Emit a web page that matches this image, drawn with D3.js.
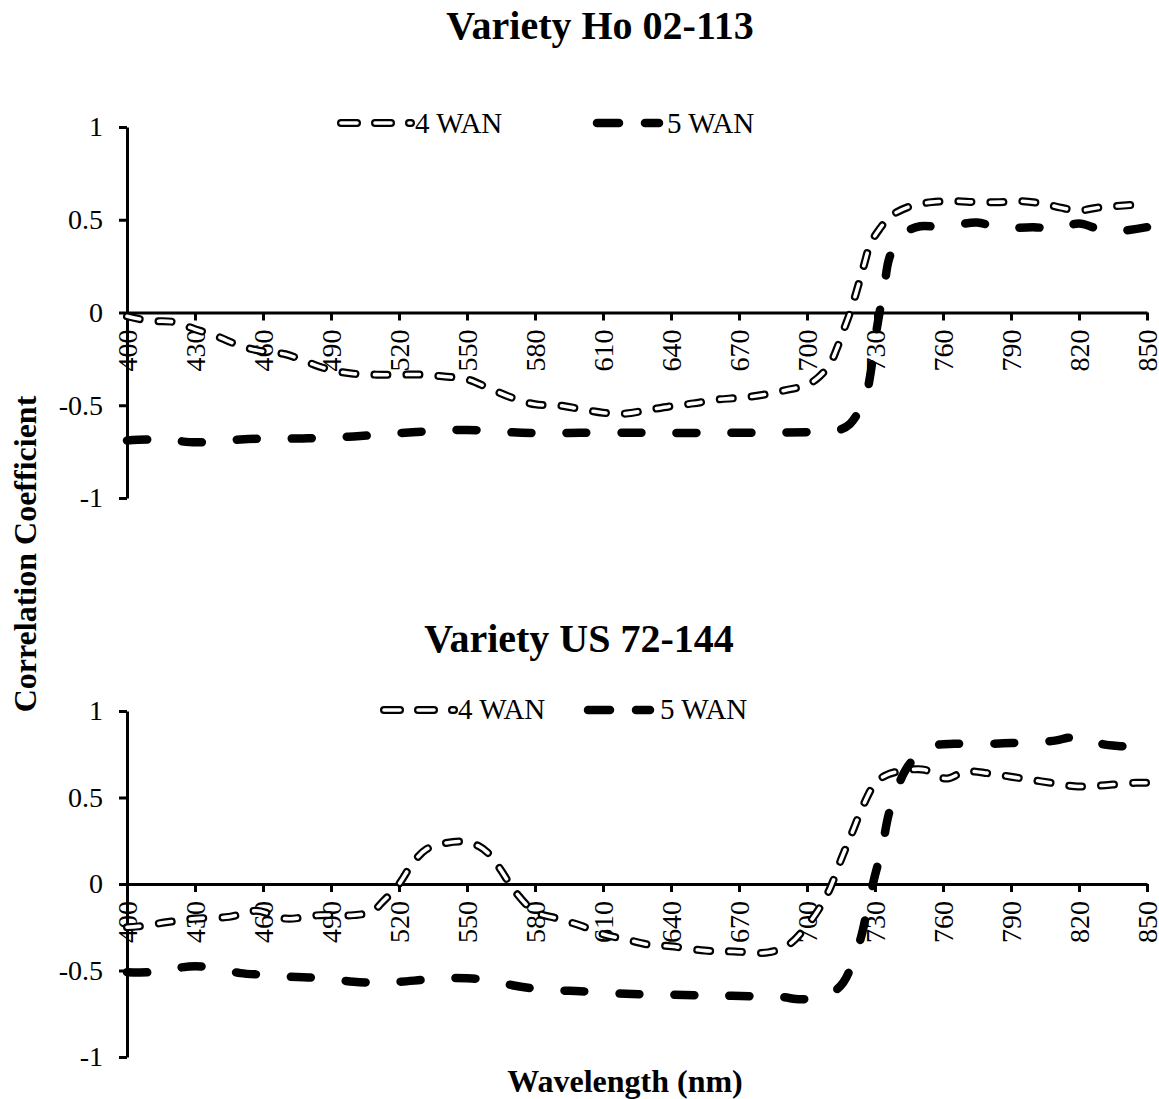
<!DOCTYPE html>
<html>
<head>
<meta charset="utf-8">
<script src="https://cdn.jsdelivr.net/npm/d3@7"></script>
<style>
  html, body { margin: 0; padding: 0; background: #fff; }
  svg { display: block; font-family: "Liberation Serif", "Times New Roman", serif; }
</style>
</head>
<body>
<svg id="chart" width="1159" height="1099"></svg>
<script>
// ---------- data ----------
const xTicks = [400, 430, 460, 490, 520, 550, 580, 610, 640, 670, 700, 730, 760, 790, 820, 850];
const yTicks = [-1, -0.5, 0, 0.5, 1];
const yTickLabels = ["-1", "-0.5", "0", "0.5", "1"];
const seriesNames = ["4 WAN", "5 WAN"];
const panelTitles = ["Variety Ho 02-113", "Variety US 72-144"];

// Variety Ho 02-113, 4 WAN
const hoWl4 = [400, 410, 420, 430, 440, 450, 460, 470, 480, 490, 500, 510, 520, 530, 540, 550, 560, 570, 580, 590, 600, 610, 620, 630, 640, 650, 660, 670, 680, 690, 700, 705, 710, 713, 716, 719, 722, 725, 728, 732, 737, 745, 755, 765, 775, 785, 795, 805, 812, 820, 828, 838, 850];
const hoVal4 = [-0.02, -0.045, -0.05, -0.09, -0.13, -0.18, -0.21, -0.225, -0.27, -0.31, -0.33, -0.335, -0.335, -0.335, -0.345, -0.36, -0.41, -0.46, -0.495, -0.50, -0.52, -0.54, -0.545, -0.525, -0.505, -0.49, -0.47, -0.46, -0.445, -0.42, -0.39, -0.35, -0.28, -0.2, -0.1, 0.0, 0.12, 0.25, 0.37, 0.45, 0.52, 0.57, 0.595, 0.6, 0.595, 0.595, 0.6, 0.585, 0.565, 0.55, 0.565, 0.575, 0.585];
// Variety Ho 02-113, 5 WAN
const hoWl5 = [400, 410, 420, 430, 440, 450, 460, 470, 480, 490, 500, 510, 520, 530, 540, 550, 560, 570, 580, 590, 600, 620, 640, 660, 680, 700, 710, 715, 719, 723, 726, 728, 730, 732, 734, 736, 739, 743, 750, 760, 775, 785, 800, 810, 820, 830, 838, 850];
const hoVal5 = [-0.69, -0.685, -0.69, -0.70, -0.695, -0.685, -0.68, -0.68, -0.678, -0.675, -0.668, -0.66, -0.65, -0.643, -0.636, -0.633, -0.638, -0.646, -0.65, -0.65, -0.648, -0.648, -0.65, -0.648, -0.648, -0.645, -0.64, -0.63, -0.6, -0.53, -0.45, -0.33, -0.15, 0.0, 0.13, 0.28, 0.37, 0.43, 0.465, 0.46, 0.485, 0.455, 0.46, 0.45, 0.48, 0.445, 0.44, 0.46];

// Variety US 72-144, 4 WAN
const usWl4 = [400, 405, 418, 430, 445, 457, 470, 485, 500, 508, 513, 520, 526, 532, 540, 548, 555, 560, 565, 571, 580, 590, 600, 610, 620, 630, 640, 655, 668, 683, 692, 700, 705, 710, 715, 720, 725, 730, 735, 745, 752, 758, 762, 770, 780, 790, 800, 810, 818, 825, 835, 845, 850];
const usVal4 = [-0.25, -0.245, -0.22, -0.2, -0.19, -0.155, -0.2, -0.18, -0.18, -0.16, -0.1, 0.0, 0.12, 0.2, 0.235, 0.245, 0.22, 0.17, 0.08, -0.04, -0.16, -0.2, -0.24, -0.29, -0.32, -0.35, -0.36, -0.385, -0.39, -0.395, -0.35, -0.24, -0.15, -0.03, 0.14, 0.3, 0.46, 0.58, 0.63, 0.66, 0.66, 0.62, 0.61, 0.65, 0.64, 0.62, 0.6, 0.58, 0.565, 0.565, 0.575, 0.585, 0.585];
// Variety US 72-144, 5 WAN
const usWl5 = [400, 410, 420, 430, 440, 450, 460, 470, 480, 490, 500, 510, 520, 530, 540, 550, 560, 570, 580, 590, 600, 620, 640, 660, 680, 690, 695, 700, 705, 712, 716, 720, 724, 727, 730, 733, 736, 740, 744, 750, 756, 765, 780, 790, 800, 810, 815, 820, 825, 830, 840, 850];
const usVal5 = [-0.51, -0.51, -0.49, -0.475, -0.49, -0.515, -0.525, -0.535, -0.54, -0.55, -0.565, -0.57, -0.565, -0.555, -0.545, -0.545, -0.555, -0.585, -0.605, -0.615, -0.62, -0.635, -0.64, -0.645, -0.65, -0.655, -0.665, -0.665, -0.655, -0.62, -0.57, -0.46, -0.3, -0.12, 0.05, 0.2, 0.4, 0.56, 0.67, 0.76, 0.8, 0.81, 0.81, 0.815, 0.82, 0.83, 0.845, 0.85, 0.84, 0.81, 0.795, 0.785];

// ---------- layout ----------
const svg = d3.select("#chart");
const x = d3.scaleLinear().domain([400, 850]).range([127, 1147]);

const panels = [
  { title: panelTitles[0], titleX: 600, titleY: 39, yTop: 127, yBottom: 498,
    s4: [hoWl4, hoVal4], s5: [hoWl5, hoVal5],
    leg4: [341, 411, 123, 415, 133], leg5: [597, 659, 123, 667, 133] },
  { title: panelTitles[1], titleX: 579, titleY: 652, yTop: 711, yBottom: 1057,
    s4: [usWl4, usVal4], s5: [usWl5, usVal5],
    leg4: [384, 454, 710, 458, 719], leg5: [588, 650, 710, 660, 719] }
];

function style4(sel, outer) {
  sel.attr("fill", "none")
     .attr("stroke", outer ? "#000" : "#fff")
     .attr("stroke-width", outer ? 8 : 3.6)
     .attr("stroke-linecap", "round")
     .attr("stroke-linejoin", "round")
     .attr("stroke-dasharray", "13 19");
}
function style5(sel) {
  sel.attr("fill", "none")
     .attr("stroke", "#000")
     .attr("stroke-width", 8.5)
     .attr("stroke-linecap", "round")
     .attr("stroke-linejoin", "round")
     .attr("stroke-dasharray", "20 35");
}

panels.forEach(p => {
  const y = d3.scaleLinear().domain([-1, 1]).range([p.yBottom, p.yTop]);
  const g = svg.append("g");

  // y axis
  const ya = g.append("g").attr("transform", `translate(${x(400)},0)`)
    .call(d3.axisLeft(y).tickValues(yTicks).tickFormat((d, i) => yTickLabels[i])
      .tickSize(8).tickSizeOuter(0).tickPadding(16));
  ya.select(".domain").attr("stroke", "#000").attr("stroke-width", 3);
  ya.selectAll(".tick line").attr("stroke", "#000").attr("stroke-width", 3);
  ya.selectAll(".tick text").attr("font-size", 28).attr("fill", "#000")
    .attr("font-family", "Liberation Serif");

  // x axis at y = 0
  const xa = g.append("g").attr("transform", `translate(0,${y(0)})`)
    .call(d3.axisBottom(x).tickValues(xTicks).tickFormat(d3.format("d"))
      .tickSize(8).tickSizeOuter(0));
  xa.select(".domain").attr("stroke", "#000").attr("stroke-width", 3);
  xa.selectAll(".tick line").attr("stroke", "#000").attr("stroke-width", 3);
  xa.selectAll(".tick text")
    .attr("font-size", 28).attr("fill", "#000").attr("font-family", "Liberation Serif")
    .attr("text-anchor", "end")
    .attr("transform", "rotate(-90)")
    .attr("x", -17).attr("y", 0).attr("dy", "0.35em");

  // title
  g.append("text").attr("x", p.titleX).attr("y", p.titleY)
    .attr("text-anchor", "middle").attr("font-weight", "bold").attr("font-size", 40)
    .text(p.title);

  // series
  const line = d3.line().x(d => x(d[0])).y(d => y(d[1])).curve(d3.curveCatmullRom.alpha(0.5));
  const d5 = p.s5[0].map((w, i) => [w, p.s5[1][i]]);
  const d4 = p.s4[0].map((w, i) => [w, p.s4[1][i]]);
  g.append("path").attr("d", line(d5)).call(style5);
  g.append("path").attr("d", line(d4)).call(style4, true);
  g.append("path").attr("d", line(d4)).call(style4, false);

  // legend
  const [a0, a1, ay, at, ab] = p.leg4;
  const l4 = `M${a0},${ay}L${a1},${ay}`;
  g.append("path").attr("d", l4).call(style4, true).attr("stroke-dasharray", "16 18");
  g.append("path").attr("d", l4).call(style4, false).attr("stroke-dasharray", "16 18");
  g.append("text").attr("x", at).attr("y", ab).attr("font-size", 29).text(seriesNames[0]);

  const [b0, b1, by, bt, bb] = p.leg5;
  g.append("path").attr("d", `M${b0},${by}L${b1},${by}`).call(style5).attr("stroke-dasharray", "22 26");
  g.append("text").attr("x", bt).attr("y", bb).attr("font-size", 29).text(seriesNames[1]);
});

// axis titles
svg.append("text").attr("transform", "translate(36,554) rotate(-90)")
  .attr("text-anchor", "middle").attr("font-weight", "bold").attr("font-size", 32)
  .text("Correlation Coefficient");
svg.append("text").attr("x", 625).attr("y", 1092)
  .attr("text-anchor", "middle").attr("font-weight", "bold").attr("font-size", 32)
  .text("Wavelength (nm)");
</script>
</body>
</html>
